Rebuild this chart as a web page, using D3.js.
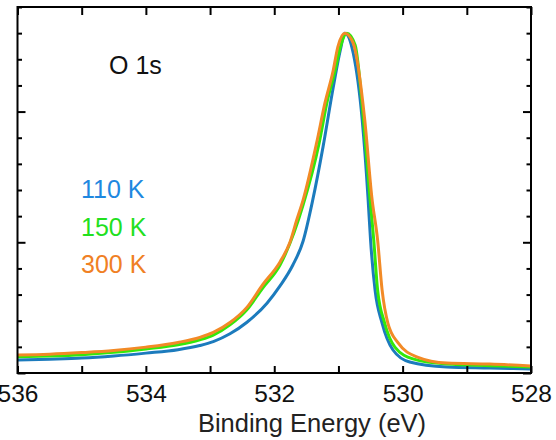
<!DOCTYPE html>
<html>
<head>
<meta charset="utf-8">
<script src="https://cdn.jsdelivr.net/npm/d3@7"></script>
<style>
  body { margin: 0; background: #fff; }
  text { font-family: "Liberation Sans", Arial, sans-serif; }
</style>
</head>
<body>
<svg id="chart" width="556" height="440"></svg>
<script>
// binding energy (eV) vs intensity (arb. units)
var blue110 = [
  [536.0, 0.50], [535.5, 0.53], [535.0, 0.57], [534.5, 0.65], [534.0, 0.76],
  [533.5, 0.89], [533.16, 1.05], [532.95, 1.20], [532.69, 1.50], [532.43, 1.93],
  [532.11, 2.68], [531.91, 3.33], [531.71, 4.13], [531.55, 5.05],
  [531.40, 6.62], [531.24, 8.65], [531.08, 10.94], [530.97, 12.36], [530.90, 13.0],
  [530.77, 12.24], [530.63, 9.68], [530.54, 6.73], [530.50, 5.09], [530.43, 3.18],
  [530.32, 1.91], [530.15, 0.88], [529.89, 0.42], [529.31, 0.23], [528.64, 0.19], [528.0, 0.15]
];
var green150 = [
  [536.0, 0.62], [535.5, 0.65], [535.0, 0.70], [534.5, 0.79], [534.0, 0.92],
  [533.5, 1.08], [533.16, 1.27], [532.95, 1.45], [532.69, 1.84], [532.43, 2.41],
  [532.18, 3.25], [531.91, 4.13], [531.55, 6.43], [531.30, 8.80], [531.18, 10.33], [531.05, 11.59],
  [530.97, 12.47], [530.87, 13.0], [530.74, 12.55], [530.61, 9.68], [530.51, 6.73],
  [530.45, 5.09], [530.39, 3.18], [530.28, 1.91], [530.12, 0.99], [529.84, 0.54],
  [529.31, 0.34], [528.64, 0.28], [528.0, 0.23]
];
var orange300 = [
  [536.0, 0.69], [535.5, 0.72], [535.0, 0.78], [534.5, 0.86], [534.0, 0.99],
  [533.5, 1.17], [533.16, 1.36], [532.95, 1.55], [532.69, 1.93], [532.43, 2.50],
  [532.18, 3.38], [531.91, 4.25], [531.76, 4.97],
  [531.65, 5.85], [531.55, 6.62], [531.34, 8.80], [531.21, 10.33], [531.08, 11.59],
  [531.01, 12.47], [530.90, 13.0], [530.77, 12.62], [530.59, 9.68], [530.48, 6.73],
  [530.39, 5.09], [530.32, 3.18], [530.23, 1.91], [530.07, 1.15], [529.77, 0.61],
  [529.31, 0.38], [528.64, 0.34], [528.0, 0.27]
];
var seriesNames = ["110 K", "150 K", "300 K"];
var lineColors = ["#1c7bbd", "#33e80a", "#f28a26"];
var labelColors = ["#1e88e0", "#22e01e", "#f08024"];
var xTicks = d3.range(528, 537);
var yTicks = d3.range(0, 15);

var svg = d3.select("#chart");
var plotLeft = 17.5, plotRight = 531, plotTop = 7, plotBottom = 373;

var x = d3.scaleLinear().domain([536, 528]).range([plotLeft, plotRight]);
var y = d3.scaleLinear().domain([0, 14]).range([plotBottom, plotTop]);

svg.append("clipPath").attr("id", "clip")
  .append("rect").attr("x", plotLeft).attr("y", plotTop)
  .attr("width", plotRight - plotLeft).attr("height", plotBottom - plotTop);

var line = d3.line()
  .x(function(d) { return x(d[0]); })
  .y(function(d) { return y(d[1]); })
  .curve(d3.curveMonotoneX);

var g = svg.append("g").attr("clip-path", "url(#clip)");
[blue110, green150, orange300].forEach(function(s, i) {
  g.append("path").datum(s)
    .attr("d", line)
    .attr("fill", "none")
    .attr("stroke", lineColors[i])
    .attr("stroke-width", 3)
    .attr("stroke-linejoin", "round");
});

// axes, ticks pointing inward
var bottomAxis = svg.append("g").attr("transform", "translate(0," + plotBottom + ")")
  .call(d3.axisBottom(x).tickValues(xTicks).tickSize(-7).tickPadding(12)
    .tickFormat(function(d) { return d % 2 === 0 ? d : ""; }));
svg.append("g").attr("transform", "translate(0," + plotTop + ")")
  .call(d3.axisTop(x).tickValues(xTicks).tickSize(-8).tickFormat(""));
var leftAxis = svg.append("g").attr("transform", "translate(" + plotLeft + ",0)")
  .call(d3.axisLeft(y).tickValues(yTicks).tickSize(-4.5).tickFormat(""));
var rightAxis = svg.append("g").attr("transform", "translate(" + plotRight + ",0)")
  .call(d3.axisRight(y).tickValues(yTicks).tickSize(-4.5).tickFormat(""));
leftAxis.selectAll(".tick line").attr("x2", function(d) { return d % 5 === 0 ? 8 : 4.5; });
rightAxis.selectAll(".tick line").attr("x2", function(d) { return d % 5 === 0 ? -8 : -4.5; });

svg.selectAll(".domain").remove();
svg.selectAll(".tick line").attr("stroke", "#000").attr("stroke-width", 2);
bottomAxis.selectAll("text")
  .attr("font-size", 24.5).attr("fill", "#111")
  .style("font-family", "'Liberation Sans', Arial, sans-serif");

svg.append("rect")
  .attr("x", plotLeft).attr("y", plotTop)
  .attr("width", plotRight - plotLeft).attr("height", plotBottom - plotTop)
  .attr("fill", "none").attr("stroke", "#000").attr("stroke-width", 2);

svg.append("text").attr("x", 312).attr("y", 432)
  .attr("text-anchor", "middle").attr("font-size", 25.5).attr("fill", "#222")
  .text("Binding Energy (eV)");

svg.append("text").attr("x", 109).attr("y", 74)
  .attr("font-size", 25).attr("fill", "#111").text("O 1s");

seriesNames.forEach(function(n, i) {
  svg.append("text").attr("x", 81).attr("y", 198 + i * 37.5)
    .attr("font-size", 25).attr("fill", labelColors[i]).text(n);
});
</script>
</body>
</html>
